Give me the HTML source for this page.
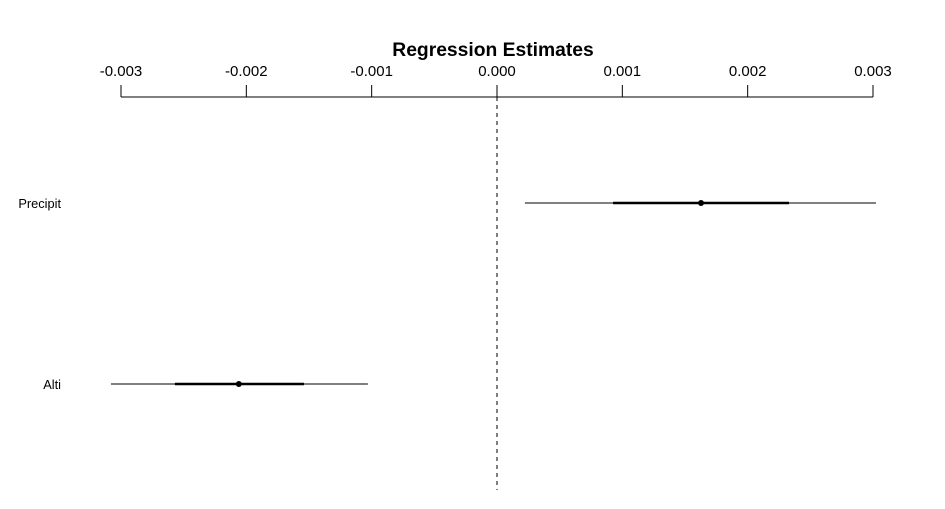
<!DOCTYPE html>
<html><head><meta charset="utf-8"><style>
html,body{margin:0;padding:0;background:#fff;}
svg{display:block;font-family:"Liberation Sans",sans-serif;}
</style></head><body>
<svg id="chart" width="945" height="509">
<text x="493" y="56" text-anchor="middle" font-size="19.3" font-weight="bold">Regression Estimates</text>
<g id="axis"></g>
<g id="marks"></g>
</svg>
<script>
const labels = ["Precipit", "Alti"];
const estimates = [0.001628, -0.00206];
const innerLow = [0.000926, -0.00257];
const innerHigh = [0.00233, -0.00154];
const outerLow = [0.000223, -0.00308];
const outerHigh = [0.003024, -0.00103];
const ticks = [-0.003, -0.002, -0.001, 0, 0.001, 0.002, 0.003];
const tickLabels = ["-0.003","-0.002","-0.001","0.000","0.001","0.002","0.003"];

const NS = "http://www.w3.org/2000/svg";
function x(v){ return 497 + v * 125333.3; }
function y(i){ return 203 + i * 181; }
function mk(tag, attrs, parent){
  const e = document.createElementNS(NS, tag);
  for (const k in attrs) e.setAttribute(k, attrs[k]);
  parent.appendChild(e); return e;
}
const axis = document.getElementById('axis');
const marks = document.getElementById('marks');
let l = mk('line',{x1:x(ticks[0]),x2:x(ticks[ticks.length-1]),y1:97,y2:97,stroke:'#000','stroke-width':1},axis);


ticks.forEach((t,i)=>{
  const tk = mk('line',{x1:x(t),x2:x(t),y1:85,y2:97,stroke:'#000','stroke-width':1},axis);
  
  
  const tx = mk('text',{x:x(t),y:76,'text-anchor':'middle','font-size':15},axis);
  tx.textContent = tickLabels[i];
  
  
});
const z = mk('line',{x1:x(0),x2:x(0),y1:97,y2:490,stroke:'#000','stroke-width':1,'stroke-dasharray':'4,4'},marks);


labels.forEach((lab,i)=>{
  const yy = y(i);
  const t = mk('text',{x:61,y:yy+5,'text-anchor':'end','font-size':12.8},marks);
  t.textContent = lab;
  
  
  const o = mk('line',{x1:x(outerLow[i]),x2:x(outerHigh[i]),y1:yy,y2:yy,stroke:'#000','stroke-width':1},marks);
  
  
  const n = mk('line',{x1:x(innerLow[i]),x2:x(innerHigh[i]),y1:yy,y2:yy,stroke:'#000','stroke-width':2.5},marks);
  
  
  const c = mk('circle',{cx:x(estimates[i]),cy:yy,r:3,fill:'#000'},marks);
  
  
});
</script>
</body></html>
